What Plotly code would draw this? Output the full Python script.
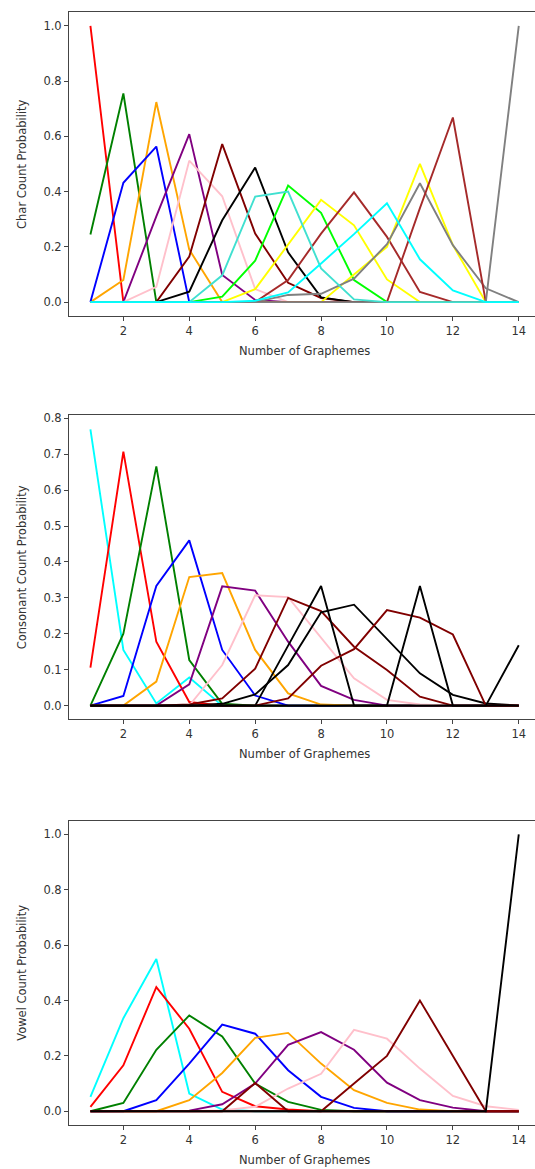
import plotly.graph_objects as go

x_vals = list(range(1, 15))

# ---- Panel 1: Char Count Probability ----
char_series = [
    ("red",       [1.0, 0, 0, 0, 0, 0, 0, 0, 0, 0, 0, 0, 0, 0]),
    ("green",     [0.245, 0.755, 0, 0, 0, 0, 0, 0, 0, 0, 0, 0, 0, 0]),
    ("orange",    [0, 0.08, 0.724, 0.19, 0, 0, 0, 0, 0, 0, 0, 0, 0, 0]),
    ("blue",      [0, 0.432, 0.563, 0, 0, 0, 0, 0, 0, 0, 0, 0, 0, 0]),
    ("purple",    [0, 0, 0.31, 0.608, 0.098, 0.008, 0, 0, 0, 0, 0, 0, 0, 0]),
    ("pink",      [0, 0, 0.055, 0.512, 0.383, 0.047, 0, 0, 0, 0, 0, 0, 0, 0]),
    ("#800000",   [0, 0, 0, 0.165, 0.572, 0.248, 0.07, 0.015, 0, 0, 0, 0, 0, 0]),
    ("black",     [0, 0, 0, 0.038, 0.296, 0.487, 0.18, 0.017, 0, 0, 0, 0, 0, 0]),
    ("lime",      [0, 0, 0, 0, 0.02, 0.15, 0.422, 0.323, 0.08, 0, 0, 0, 0, 0]),
    ("yellow",    [0, 0, 0, 0, 0, 0.047, 0.21, 0.37, 0.278, 0.082, 0, 0, 0, 0]),
    ("brown",     [0, 0, 0, 0, 0, 0, 0.08, 0.248, 0.397, 0.236, 0.037, 0, 0, 0]),
    ("yellow",    [0, 0, 0, 0, 0, 0, 0, 0, 0.1, 0.2, 0.5, 0.206, 0, 0]),
    ("gray",      [0, 0, 0, 0, 0, 0, 0.026, 0.03, 0.085, 0.21, 0.43, 0.206, 0.05, 0]),
    ("brown",     [0, 0, 0, 0, 0, 0, 0, 0, 0, 0, 0.34, 0.668, 0, 0]),
    ("gray",      [0, 0, 0, 0, 0, 0, 0, 0, 0, 0, 0, 0, 0, 1.0]),
    ("turquoise", [0, 0, 0, 0, 0.097, 0.382, 0.4, 0.122, 0.01, 0, 0, 0, 0, 0]),
    ("cyan",      [0, 0, 0, 0, 0, 0.005, 0.035, 0.14, 0.246, 0.358, 0.155, 0.042, 0, 0]),
]

# ---- Panel 2: Consonant Count Probability ----
consonant_series = [
    ("cyan",    [0.769, 0.155, 0.006, 0.078, 0, 0, 0, 0, 0, 0, 0, 0, 0, 0]),
    ("red",     [0.106, 0.707, 0.178, 0.01, 0, 0, 0, 0, 0, 0, 0, 0, 0, 0]),
    ("green",   [0, 0.2, 0.666, 0.127, 0.005, 0, 0, 0, 0, 0, 0, 0, 0, 0]),
    ("blue",    [0, 0.027, 0.333, 0.46, 0.155, 0.028, 0, 0, 0, 0, 0, 0, 0, 0]),
    ("orange",  [0, 0, 0.067, 0.358, 0.369, 0.155, 0.034, 0.003, 0, 0, 0, 0, 0, 0]),
    ("purple",  [0, 0, 0, 0.059, 0.332, 0.32, 0.178, 0.055, 0.016, 0, 0, 0, 0, 0]),
    ("pink",    [0, 0, 0, 0, 0.113, 0.307, 0.302, 0.19, 0.076, 0.016, 0.003, 0, 0, 0]),
    ("#800000", [0, 0, 0, 0.003, 0.02, 0.103, 0.30, 0.263, 0.164, 0.099, 0.025, 0, 0, 0]),
    ("black",   [0, 0, 0, 0, 0.005, 0.031, 0.113, 0.26, 0.281, 0.184, 0.09, 0.03, 0.006, 0]),
    ("black",   [0, 0, 0, 0, 0, 0, 0.167, 0.333, 0, 0, 0, 0, 0, 0]),
    ("#800000", [0, 0, 0, 0, 0, 0, 0.02, 0.111, 0.157, 0.266, 0.245, 0.198, 0, 0]),
    ("black",   [0, 0, 0, 0, 0, 0, 0, 0, 0, 0, 0.333, 0, 0, 0]),
    ("black",   [0, 0, 0, 0, 0, 0, 0, 0, 0, 0, 0, 0, 0, 0.168]),
]

# ---- Panel 3: Vowel Count Probability ----
vowel_series = [
    ("cyan",    [0.052, 0.336, 0.55, 0.064, 0.006, 0, 0, 0, 0, 0, 0, 0, 0, 0]),
    ("red",     [0.016, 0.166, 0.448, 0.298, 0.07, 0.018, 0.006, 0, 0, 0, 0, 0, 0, 0]),
    ("green",   [0, 0.03, 0.222, 0.346, 0.27, 0.1, 0.034, 0.005, 0, 0, 0, 0, 0, 0]),
    ("blue",    [0, 0, 0.04, 0.172, 0.313, 0.28, 0.148, 0.052, 0.012, 0, 0, 0, 0, 0]),
    ("orange",  [0, 0, 0, 0.04, 0.138, 0.265, 0.283, 0.172, 0.076, 0.03, 0.006, 0, 0, 0]),
    ("purple",  [0, 0, 0, 0.002, 0.025, 0.1, 0.24, 0.286, 0.222, 0.103, 0.04, 0.013, 0, 0]),
    ("pink",    [0, 0, 0, 0, 0.003, 0.016, 0.082, 0.135, 0.294, 0.262, 0.154, 0.055, 0.018, 0.005]),
    ("#800000", [0, 0, 0, 0, 0, 0.102, 0, 0, 0, 0, 0, 0, 0, 0]),
    ("#800000", [0, 0, 0, 0, 0, 0, 0, 0, 0.1, 0.2, 0.4, 0.2, 0, 0]),
    ("black",   [0, 0, 0, 0, 0, 0, 0, 0, 0, 0, 0, 0, 0, 1.0]),
]

y_titles = ["Char Count Probability", "Consonant Count Probability", "Vowel Count Probability"]
x_title = "Number of Graphemes"
x_ticks = [2, 4, 6, 8, 10, 12, 14]
y_ticks_12 = [0.0, 0.2, 0.4, 0.6, 0.8, 1.0]
y_ticks_2 = [0.0, 0.1, 0.2, 0.3, 0.4, 0.5, 0.6, 0.7, 0.8]

W, H = 535, 1169
FONT = "DejaVu Sans"
FS = 11.5
TXT = "#333333"
SPINE = "#444444"

panels = [
    (char_series, [-0.05, 1.05], y_ticks_12, (8.0, 313.0)),
    (consonant_series, [-0.0385, 0.8085], y_ticks_2, (412.6, 717.9)),
    (vowel_series, [-0.05, 1.05], y_ticks_12, (819.4, 1124.9)),
]

fig = go.Figure()
left_px = 69.0
px_per_unit = 32.95
x_range = [0.35, 0.35 + (W - left_px) / px_per_unit]

annotations = []
for i, (series, yr, yt, (top_px, bot_px)) in enumerate(panels):
    suffix = "" if i == 0 else str(i + 1)
    for color, vals in series:
        fig.add_trace(go.Scatter(
            x=x_vals, y=vals, mode="lines",
            line=dict(color=color, width=1.9),
            xaxis="x" + suffix, yaxis="y" + suffix,
            showlegend=False, hoverinfo="skip",
        ))
    dom = [1 - bot_px / H, 1 - top_px / H]
    fig.layout["xaxis" + suffix] = dict(
        domain=[left_px / W, 1], range=x_range, anchor="y" + suffix,
        tickvals=x_ticks, ticks="outside", ticklen=4, tickcolor=SPINE,
        showline=True, linecolor=SPINE, linewidth=1, mirror=True,
        showgrid=False, zeroline=False,
        tickfont=dict(family=FONT, size=FS, color=TXT),
    )
    fig.layout["yaxis" + suffix] = dict(
        domain=dom, range=yr, anchor="x" + suffix,
        tickvals=yt, tickformat=".1f", ticks="outside", ticklen=4, tickcolor=SPINE,
        showline=True, linecolor=SPINE, linewidth=1, mirror=False,
        showgrid=False, zeroline=False,
        tickfont=dict(family=FONT, size=FS, color=TXT),
    )
    annotations.append(dict(
        text=y_titles[i], xref="paper", yref="paper",
        x=22 / W, y=1 - ((top_px + bot_px) / 2) / H,
        textangle=-90, showarrow=False, xanchor="center", yanchor="middle",
        font=dict(family=FONT, size=FS, color=TXT),
    ))
    annotations.append(dict(
        text=x_title, xref="paper", yref="paper",
        x=(90 + 6.5 * px_per_unit) / W,
        y=1 - (bot_px + 35) / H,
        showarrow=False, xanchor="center", yanchor="middle",
        font=dict(family=FONT, size=FS, color=TXT),
    ))

fig.update_layout(
    width=W, height=H,
    margin=dict(l=0, r=0, t=0, b=0),
    paper_bgcolor="white", plot_bgcolor="white",
    annotations=annotations,
    showlegend=False,
)

fig.write_html(
    "out.html",
    config={"displayModeBar": False, "staticPlot": True},
    post_script="document.body.style.margin='0';document.body.style.overflow='hidden';",
)
